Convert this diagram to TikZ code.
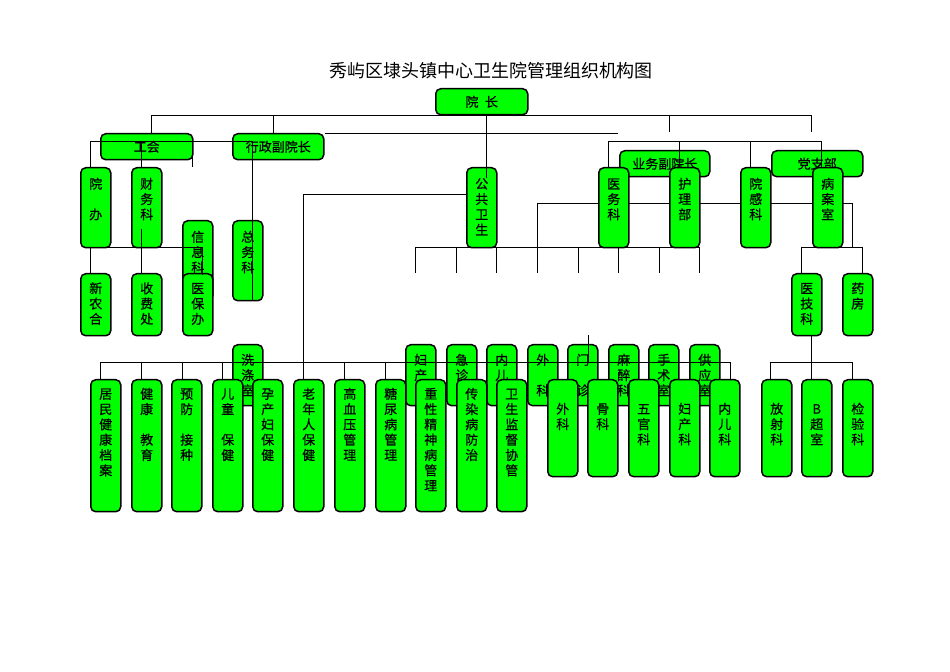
\documentclass[tikz,border=0pt]{standalone}
\usepackage{fontspec}
\setmainfont{Noto Sans CJK SC}
\newfontfamily\deptfont{Noto Sans CJK SC}[FakeBold=0.6]
\usetikzlibrary{backgrounds}
\tikzstyle{dept}=[draw, black, line width=0.75pt, fill=green, rounded corners=2.5pt, inner sep=0pt, text width=15pt, align=center, anchor=north west, font=\deptfont\fontsize{6.5}{7.65}\selectfont]
\tikzstyle{lead}=[draw, black, line width=0.75pt, fill=green, rounded corners=2.5pt, inner sep=0pt, minimum height=13pt, anchor=north west, font=\deptfont\fontsize{6.5}{7.65}\selectfont]
\tikzstyle{rowB}=[dept, text height=10.5pt, text depth=29.5pt]
\tikzstyle{rowC}=[dept, text height=9.75pt, text depth=21.25pt]
\tikzstyle{rowD}=[dept, text height=10pt, text depth=20.5pt]
\tikzstyle{rowE}=[dept, text height=9.5pt, text depth=56.5pt]
\tikzstyle{rowF}=[dept, text height=17pt, text depth=31.5pt]

\begin{document}
\begin{tikzpicture}[x=0.5pt, y=-0.5pt, line width=0.95pt]
\useasboundingbox (0,0) rectangle (950,672);
% Title
    \node (title) at (491,71) {\fontsize{9}{10}\selectfont 秀屿区埭头镇中心卫生院管理组织机构图};
% Heads
    \node[lead, minimum width=46pt] (yz) at (435,88) {院\enspace 长};
    \node[lead, minimum width=46pt] (gh) at (100,133) {工会};
    \node[lead, minimum width=45.5pt] (xz) at (232,133) {行政副院长};
    \node[lead, minimum width=45pt] (yw) at (619,150) {业务副院长};
    \node[lead, minimum width=45.5pt] (dz) at (771,150) {党支部};
% Offices
    \node[rowB] (yb) at (80,167) {院\\~\\办};
    \node[rowB] (cw) at (131,167) {财\\务\\科};
    \node[rowB] (gg) at (466,167) {公\\共\\卫\\生};
    \node[rowB] (ywk) at (598,167) {医\\务\\科};
    \node[rowB] (hl) at (669,167) {护\\理\\部};
    \node[rowB] (yg) at (740,167) {院\\感\\科};
    \node[rowB] (ba) at (812,167) {病\\案\\室};
    \node[rowB] (xx) at (182,220) {信\\息\\科};
    \node[rowB] (zw) at (232,220) {总\\务\\科};
    \node[rowC] (xnh) at (80,273) {新\\农\\合};
    \node[rowC] (sf) at (131,273) {收\\费\\处};
    \node[rowC] (ybb) at (182,273) {医\\保\\办};
    \node[rowC] (yj) at (791,273) {医\\技\\科};
    \node[rowC] (yf) at (842,273) {药\\房};
% Wards
    \node[rowD] (xd) at (232,344) {洗\\涤\\室};
    \node[rowD] (fc) at (405,344) {妇\\产};
    \node[rowD] (jz) at (446,344) {急\\诊};
    \node[rowD] (ne) at (486,344) {内\\儿};
    \node[rowD] (wkm) at (527,344) {外\\~\\科};
    \node[rowD] (mz) at (567,344) {门\\~\\诊};
    \node[rowD] (mzk) at (608,344) {麻\\醉\\科};
    \node[rowD] (ss) at (648,344) {手\\术\\室};
    \node[rowD] (gy) at (689,344) {供\\应\\室};
% Public health services
    \node[rowE] (jm) at (90,379) {居\\民\\健\\康\\档\\案};
    \node[rowE] (jk) at (131,379) {健\\康\\~\\教\\育};
    \node[rowE] (yfjz) at (171,379) {预\\防\\~\\接\\种};
    \node[rowE] (et) at (212,379) {儿\\童\\~\\保\\健};
    \node[rowE] (yc) at (252,379) {孕\\产\\妇\\保\\健};
    \node[rowE] (ln) at (293,379) {老\\年\\人\\保\\健};
    \node[rowE] (gxy) at (334,379) {高\\血\\压\\管\\理};
    \node[rowE] (tnb) at (375,379) {糖\\尿\\病\\管\\理};
    \node[rowE] (zx) at (415,379) {重\\性\\精\\神\\病\\管\\理};
    \node[rowE] (cr) at (456,379) {传\\染\\病\\防\\治};
    \node[rowE] (ws) at (496,379) {卫\\生\\监\\督\\协\\管};
% Clinics and medical technology
    \node[rowF] (wk) at (547,379) {外\\科};
    \node[rowF] (gk) at (587,379) {骨\\科};
    \node[rowF] (wg) at (628,379) {五\\官\\科};
    \node[rowF] (fck) at (669,379) {妇\\产\\科};
    \node[rowF] (nek) at (709,379) {内\\儿\\科};
    \node[rowF] (fs) at (761,379) {放\\射\\科};
    \node[rowF] (bc) at (801,379) {B\\超\\室};
    \node[rowF] (jy) at (842,379) {检\\验\\科};
% Lines behind the boxes
\begin{pgfonlayer}{background}
    \draw (151,115) -- (811,115);
    \draw (151,115) -- (gh.north -| 151,0);
    \draw (273,115) -- (xz.north -| 273,0);
    \draw (669,115) -- (669,132);
    \draw (811,115) -- (811,132);
    \draw (xz.north east) -- (618,133);
    \draw (gg.west |- 0,194) -| (ln.north -| 303,0);
    \draw (537,247) |- (852,203) -- (852,247);
    \draw (415,247) -- (699,247);
    \draw (415,247) -- (415,273);
    \draw (456,247) -- (456,273);
    \draw (496,247) -- (496,273);
    \draw (537,247) -- (537,273);
    \draw (578,247) -- (578,273);
    \draw (618,247) -- (618,273);
    \draw (659,247) -- (659,273);
    \draw (699,247) -- (699,273);
    \draw (yj.north -| 801,0) |- (862,247) -- (yf.north -| 862,0);
\end{pgfonlayer}
% Lines over the boxes
    \draw (yb.north -| 90,0) |- (252,141) -- (zw.south -| 252,0);
    \draw (141,141) -- (cw.north -| 141,0);
    \draw (192,141) -- (192,167);
    \draw (141,229) -- (sf.north -| 141,0);
    \draw (xnh.north -| 90,0) |- (202,247) -- (202,275);
    \draw (ywk.north -| 608,0) |- (821,141) -- (ba.north -| 821,0);
    \draw (679,141) -- (hl.north -| 679,0);
    \draw (750,141) -- (yg.north -| 750,0);
    \draw (yz.south -| 486,0) -- (486,178);
    \draw (jm.north -| 100,0) |- (730,362) -- (nek.north -| 730,0);
    \draw (141,362) -- (jk.north -| 141,0);
    \draw (182,362) -- (yfjz.north -| 182,0);
    \draw (222,362) -- (et.north -| 222,0);
    \draw (344,362) -- (gxy.north -| 344,0);
    \draw (385,362) -- (tnb.north -| 385,0);
    \draw (588,335) -- (588,362);
    \draw (yj.south -| 811,0) -- (bc.north -| 811,0);
    \draw (fs.north -| 770,0) |- (852,362) -- (jy.north -| 852,0);
\end{tikzpicture}
\end{document}
